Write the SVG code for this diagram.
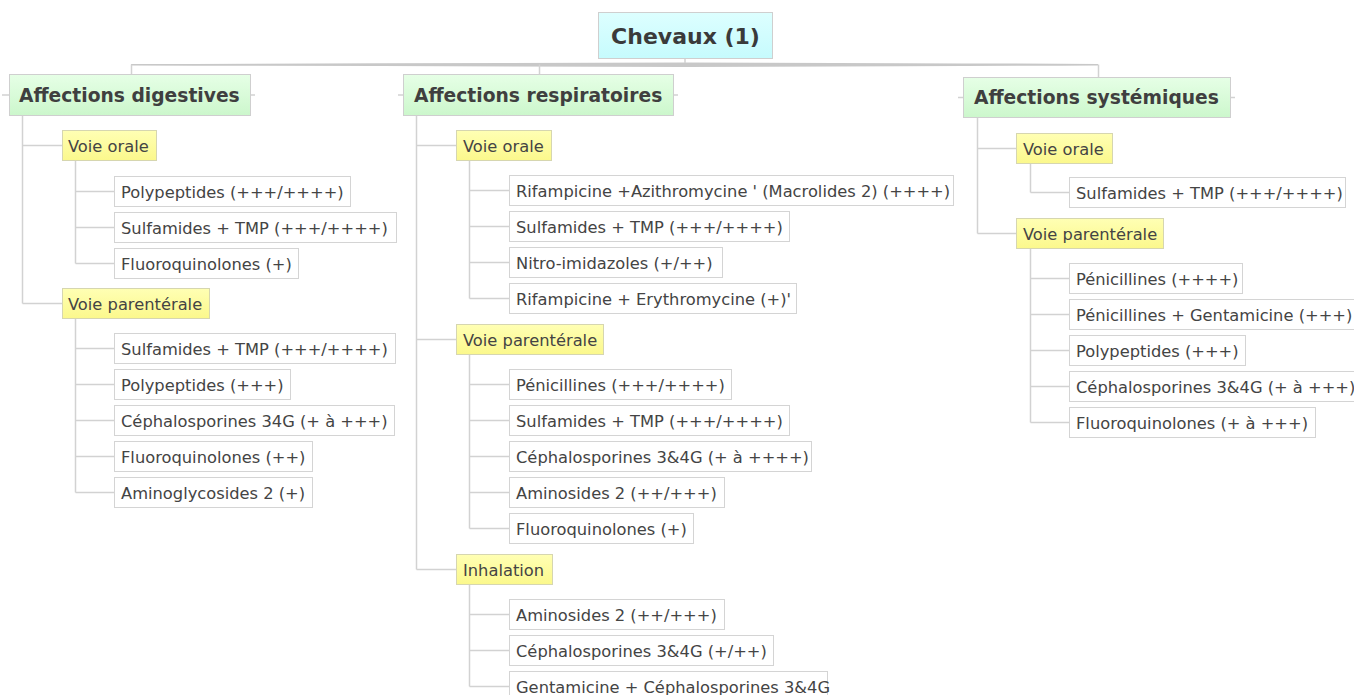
<svg xmlns="http://www.w3.org/2000/svg" width="1354" height="695" viewBox="0 0 1354 695">
<defs>
<linearGradient id="gCyan" x1="0" y1="0" x2="0" y2="1"><stop offset="0" stop-color="#ddffff"/><stop offset="1" stop-color="#c6fbfd"/></linearGradient>
<linearGradient id="gGreen" x1="0" y1="0" x2="0" y2="1"><stop offset="0" stop-color="#e6ffe6"/><stop offset="1" stop-color="#ccf7cc"/></linearGradient>
<linearGradient id="gYellow" x1="0" y1="0" x2="0" y2="1"><stop offset="0" stop-color="#ffffb4"/><stop offset="1" stop-color="#fbf88c"/></linearGradient>
</defs>
<style>
.root rect{fill:url(#gCyan);stroke:#cfcfcf;stroke-width:1}
.main rect{fill:url(#gGreen);stroke:#cfcfcf;stroke-width:1}
.sub rect{fill:url(#gYellow);stroke:#d6d6b0;stroke-width:1}
.leaf rect{fill:#ffffff;stroke:#d4d4d4;stroke-width:1}
text{font-family:"DejaVu Sans",Verdana,sans-serif;fill:#444444}
.root text{font-size:22px;font-weight:bold;fill:#3a3a3a}
.main text{font-size:18.7px;font-weight:bold;fill:#3f3f3f}
.sub text,.leaf text{font-size:16.3px}
#connectors line{stroke:#d2d2d2;stroke-width:1.5;fill:none}
#connectors .top{fill:#c8c8c8}
</style>
<g id="connectors">
<path class="top" d="M131 64 Q400 63.2 685 62.5 Q960 63.2 1098 64 L1098 65.5 Q960 66.2 685 67 Q400 66.2 131 65.5 Z"/>
<line x1="685" y1="59" x2="685" y2="63"/>
<line x1="131.5" y1="64.5" x2="131.5" y2="74"/>
<line x1="539.5" y1="64.5" x2="539.5" y2="74"/>
<line x1="1098.5" y1="64.5" x2="1098.5" y2="77"/>
<line x1="2" y1="95" x2="9" y2="95"/><line x1="250" y1="95" x2="255" y2="95"/>
<line x1="398" y1="95" x2="403" y2="95"/><line x1="673" y1="95" x2="678" y2="95"/>
<line x1="958" y1="97.5" x2="963" y2="97.5"/><line x1="1230" y1="97.5" x2="1235" y2="97.5"/>
<!-- digestives -->
<line x1="22.5" y1="116" x2="22.5" y2="303.5"/>
<line x1="22.5" y1="145.5" x2="62" y2="145.5"/>
<line x1="22.5" y1="303.5" x2="62" y2="303.5"/>
<line x1="75.5" y1="160" x2="75.5" y2="263.5"/>
<line x1="75.5" y1="191.5" x2="114" y2="191.5"/>
<line x1="75.5" y1="227.5" x2="114" y2="227.5"/>
<line x1="75.5" y1="263.5" x2="114" y2="263.5"/>
<line x1="75.5" y1="318" x2="75.5" y2="492.5"/>
<line x1="75.5" y1="348.5" x2="114" y2="348.5"/>
<line x1="75.5" y1="384.5" x2="114" y2="384.5"/>
<line x1="75.5" y1="420.5" x2="114" y2="420.5"/>
<line x1="75.5" y1="456.5" x2="114" y2="456.5"/>
<line x1="75.5" y1="492.5" x2="114" y2="492.5"/>
<!-- respiratoires -->
<line x1="416.5" y1="116" x2="416.5" y2="569.5"/>
<line x1="416.5" y1="145.5" x2="456" y2="145.5"/>
<line x1="416.5" y1="339.5" x2="456" y2="339.5"/>
<line x1="416.5" y1="569.5" x2="456" y2="569.5"/>
<line x1="469.5" y1="160" x2="469.5" y2="298.5"/>
<line x1="469.5" y1="190.5" x2="509" y2="190.5"/>
<line x1="469.5" y1="226.5" x2="509" y2="226.5"/>
<line x1="469.5" y1="262.5" x2="509" y2="262.5"/>
<line x1="469.5" y1="298.5" x2="509" y2="298.5"/>
<line x1="469.5" y1="354" x2="469.5" y2="528.5"/>
<line x1="469.5" y1="384.5" x2="509" y2="384.5"/>
<line x1="469.5" y1="420.5" x2="509" y2="420.5"/>
<line x1="469.5" y1="456.5" x2="509" y2="456.5"/>
<line x1="469.5" y1="492.5" x2="509" y2="492.5"/>
<line x1="469.5" y1="528.5" x2="509" y2="528.5"/>
<line x1="469.5" y1="585" x2="469.5" y2="686.5"/>
<line x1="469.5" y1="614.5" x2="509" y2="614.5"/>
<line x1="469.5" y1="650.5" x2="509" y2="650.5"/>
<line x1="469.5" y1="686.5" x2="509" y2="686.5"/>
<!-- systemiques -->
<line x1="977.5" y1="118" x2="977.5" y2="233.5"/>
<line x1="977.5" y1="148.5" x2="1016" y2="148.5"/>
<line x1="977.5" y1="233.5" x2="1016" y2="233.5"/>
<line x1="1030.5" y1="164" x2="1030.5" y2="192.5"/>
<line x1="1030.5" y1="192.5" x2="1069" y2="192.5"/>
<line x1="1030.5" y1="249" x2="1030.5" y2="422.5"/>
<line x1="1030.5" y1="278.5" x2="1069" y2="278.5"/>
<line x1="1030.5" y1="314.5" x2="1069" y2="314.5"/>
<line x1="1030.5" y1="350.5" x2="1069" y2="350.5"/>
<line x1="1030.5" y1="386.5" x2="1069" y2="386.5"/>
<line x1="1030.5" y1="422.5" x2="1069" y2="422.5"/>
</g>

<g id="n-root" class="root"><rect x="598.5" y="12.5" width="174" height="46"/><text x="685.5" y="43.5" text-anchor="middle">Chevaux (1)</text></g>

<g id="n-dig" class="main"><rect x="9.5" y="74.5" width="241" height="41"/><text x="19" y="101.5">Affections digestives</text></g>
<g id="n-dig-oral" class="sub"><rect x="62.5" y="130.5" width="94" height="30"/><text x="68" y="151.5">Voie orale</text></g>
<g id="n-dig-oral-1" class="leaf"><rect x="114.5" y="176.5" width="236" height="30"/><text x="121" y="197.5">Polypeptides (+++/++++)</text></g>
<g id="n-dig-oral-2" class="leaf"><rect x="114.5" y="212.5" width="282" height="30"/><text x="121" y="233.5">Sulfamides + TMP (+++/++++)</text></g>
<g id="n-dig-oral-3" class="leaf"><rect x="114.5" y="248.5" width="184" height="30"/><text x="121" y="269.5">Fluoroquinolones (+)</text></g>
<g id="n-dig-par" class="sub"><rect x="62.5" y="288.5" width="147" height="30"/><text x="68" y="309.5">Voie parentérale</text></g>
<g id="n-dig-par-1" class="leaf"><rect x="114.5" y="333.5" width="281" height="30"/><text x="121" y="354.5">Sulfamides + TMP (+++/++++)</text></g>
<g id="n-dig-par-2" class="leaf"><rect x="114.5" y="369.5" width="176" height="30"/><text x="121" y="390.5">Polypeptides (+++)</text></g>
<g id="n-dig-par-3" class="leaf"><rect x="114.5" y="405.5" width="280" height="30"/><text x="121" y="426.5">Céphalosporines 34G (+ à +++)</text></g>
<g id="n-dig-par-4" class="leaf"><rect x="114.5" y="441.5" width="198" height="30"/><text x="121" y="462.5">Fluoroquinolones (++)</text></g>
<g id="n-dig-par-5" class="leaf"><rect x="114.5" y="477.5" width="198" height="30"/><text x="121" y="498.5">Aminoglycosides 2 (+)</text></g>

<g id="n-resp" class="main"><rect x="403.5" y="74.5" width="270" height="41"/><text x="414" y="101.5">Affections respiratoires</text></g>
<g id="n-resp-oral" class="sub"><rect x="456.5" y="130.5" width="95" height="30"/><text x="463" y="151.5">Voie orale</text></g>
<g id="n-resp-oral-1" class="leaf"><rect x="509.5" y="175.5" width="444" height="30"/><text x="516" y="196.5">Rifampicine +Azithromycine ' (Macrolides 2) (++++)</text></g>
<g id="n-resp-oral-2" class="leaf"><rect x="509.5" y="211.5" width="280" height="30"/><text x="516" y="232.5">Sulfamides + TMP (+++/++++)</text></g>
<g id="n-resp-oral-3" class="leaf"><rect x="509.5" y="247.5" width="213" height="30"/><text x="516" y="268.5">Nitro-imidazoles (+/++)</text></g>
<g id="n-resp-oral-4" class="leaf"><rect x="509.5" y="283.5" width="287" height="30"/><text x="516" y="304.5">Rifampicine + Erythromycine (+)'</text></g>
<g id="n-resp-par" class="sub"><rect x="456.5" y="324.5" width="147" height="30"/><text x="463" y="345.5">Voie parentérale</text></g>
<g id="n-resp-par-1" class="leaf"><rect x="509.5" y="369.5" width="222" height="30"/><text x="516" y="390.5">Pénicillines (+++/++++)</text></g>
<g id="n-resp-par-2" class="leaf"><rect x="509.5" y="405.5" width="280" height="30"/><text x="516" y="426.5">Sulfamides + TMP (+++/++++)</text></g>
<g id="n-resp-par-3" class="leaf"><rect x="509.5" y="441.5" width="302" height="30"/><text x="516" y="462.5">Céphalosporines 3&amp;4G (+ à ++++)</text></g>
<g id="n-resp-par-4" class="leaf"><rect x="509.5" y="477.5" width="215" height="30"/><text x="516" y="498.5">Aminosides 2 (++/+++)</text></g>
<g id="n-resp-par-5" class="leaf"><rect x="509.5" y="513.5" width="184" height="30"/><text x="516" y="534.5">Fluoroquinolones (+)</text></g>
<g id="n-resp-inh" class="sub"><rect x="456.5" y="554.5" width="96" height="30"/><text x="463" y="575.5">Inhalation</text></g>
<g id="n-resp-inh-1" class="leaf"><rect x="509.5" y="599.5" width="215" height="30"/><text x="516" y="620.5">Aminosides 2 (++/+++)</text></g>
<g id="n-resp-inh-2" class="leaf"><rect x="509.5" y="635.5" width="264" height="30"/><text x="516" y="656.5">Céphalosporines 3&amp;4G (+/++)</text></g>
<g id="n-resp-inh-3" class="leaf"><rect x="509.5" y="671.5" width="318" height="30"/><text x="516" y="692.5">Gentamicine + Céphalosporines 3&amp;4G</text></g>

<g id="n-sys" class="main"><rect x="963.5" y="77.5" width="267" height="40"/><text x="974" y="104">Affections systémiques</text></g>
<g id="n-sys-oral" class="sub"><rect x="1016.5" y="133.5" width="96" height="30"/><text x="1023" y="154.5">Voie orale</text></g>
<g id="n-sys-oral-1" class="leaf"><rect x="1069.5" y="177.5" width="276" height="30"/><text x="1076" y="198.5">Sulfamides + TMP (+++/++++)</text></g>
<g id="n-sys-par" class="sub"><rect x="1016.5" y="218.5" width="147" height="30"/><text x="1023" y="239.5">Voie parentérale</text></g>
<g id="n-sys-par-1" class="leaf"><rect x="1069.5" y="263.5" width="173" height="30"/><text x="1076" y="284.5">Pénicillines (++++)</text></g>
<g id="n-sys-par-2" class="leaf"><rect x="1069.5" y="299.5" width="290" height="30"/><text x="1076" y="320.5">Pénicillines + Gentamicine (+++)</text></g>
<g id="n-sys-par-3" class="leaf"><rect x="1069.5" y="335.5" width="176" height="30"/><text x="1076" y="356.5">Polypeptides (+++)</text></g>
<g id="n-sys-par-4" class="leaf"><rect x="1069.5" y="371.5" width="290" height="30"/><text x="1076" y="392.5">Céphalosporines 3&amp;4G (+ à +++)</text></g>
<g id="n-sys-par-5" class="leaf"><rect x="1069.5" y="407.5" width="246" height="30"/><text x="1076" y="428.5">Fluoroquinolones (+ à +++)</text></g>
</svg>
